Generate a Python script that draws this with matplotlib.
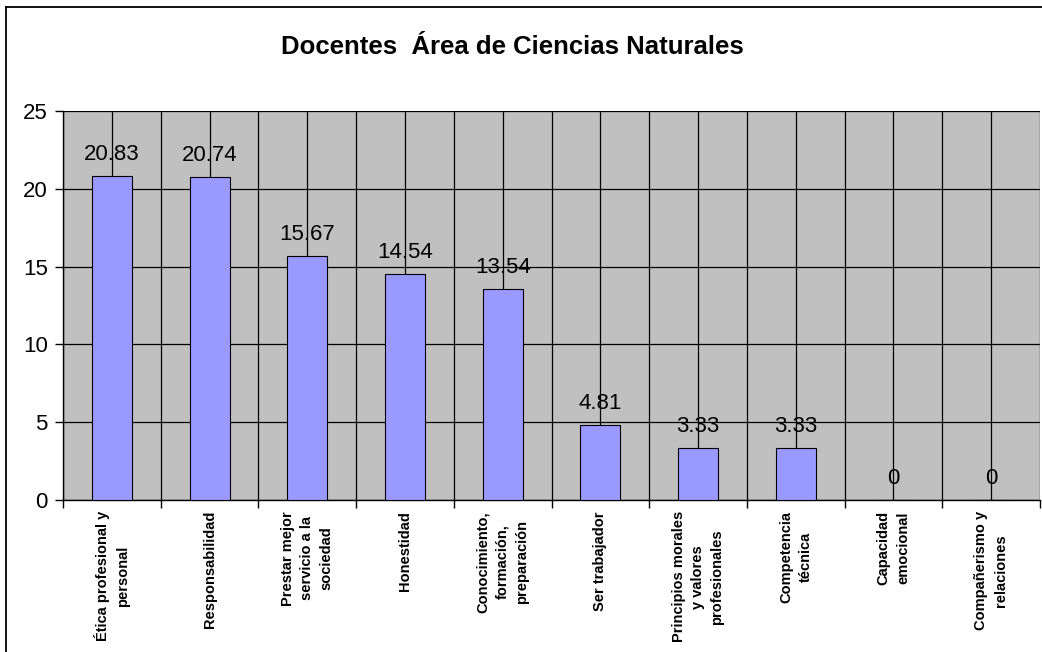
import numpy as np
import matplotlib
matplotlib.use('Agg')
import matplotlib.pyplot as plt
from matplotlib.lines import Line2D

plt.rcParams['font.family'] = ['Liberation Sans', 'DejaVu Sans']

categorias = ['Ética profesional y\npersonal', 'Responsabilidad',
              'Prestar mejor\nservicio a la\nsociedad', 'Honestidad',
              'Conocimiento,\nformación,\npreparación', 'Ser trabajador',
              'Principios morales\ny valores\nprofesionales', 'Competencia\ntécnica',
              'Capacidad\nemocional', 'Compañerismo y\nrelaciones']
valores = [20.83, 20.74, 15.67, 14.54, 13.54, 4.81, 3.33, 3.33, 0, 0]
etiquetas = ['20.83', '20.74', '15.67', '14.54', '13.54', '4.81', '3.33', '3.33', '0', '0']
titulo = 'Docentes  Área de Ciencias Naturales'

fig = plt.figure(figsize=(10.42, 6.52), dpi=100)
W, H = 1042.0, 652.0
ax = fig.add_axes([63/W, 1-500/H, (1040-63)/W, (500-111)/H])
ax.set_facecolor('#C0C0C0')

x = np.arange(len(valores))
ax.bar(x, valores, width=0.41, color='#9999FF', edgecolor='black', linewidth=0.8, zorder=3)

for xi, v, t in zip(x, valores, etiquetas):
    ax.annotate(t, (xi, v), xytext=(0, 8), textcoords='offset points',
                ha='center', va='bottom', fontsize=16, zorder=4)

ax.set_xlim(-0.5, len(valores)-0.5)
ax.set_ylim(0, 25)
ax.set_yticks([0, 5, 10, 15, 20, 25])
ax.tick_params(axis='y', labelsize=16, length=6, width=1, direction='out', pad=5)

# tick marks at category boundaries, labels at centres
ax.set_xticks(np.arange(-0.5, len(valores)), labels=[''] * (len(valores)+1))
ax.set_xticks(x, labels=categorias, minor=True)
ax.tick_params(axis='x', which='major', length=6, width=1, direction='out')
ax.tick_params(axis='x', which='minor', length=0, pad=8)
for lab in ax.get_xticklabels(minor=True):
    lab.set_rotation(90)
    lab.set_fontsize(10.5)
    lab.set_fontweight('bold')
    lab.set_ha('center')
    lab.set_va('top')
    lab.set_multialignment('center')
    lab.set_linespacing(1.5)

ax.grid(axis='y', color='black', linewidth=0.9, zorder=0)
ax.grid(axis='x', which='both', color='black', linewidth=0.9, zorder=0)
ax.set_axisbelow(True)
for s in ['top', 'right']:
    ax.spines[s].set_visible(False)
for s in ['left', 'bottom']:
    ax.spines[s].set_color('black')
    ax.spines[s].set_linewidth(1)

fig.text(512/W, 1-47/H, titulo, ha='center', va='center', fontsize=18.5, fontweight='bold')

# chart border (cut at right and bottom)
fig.add_artist(Line2D([5.5/W, 1.0], [1-6.5/H, 1-6.5/H], color='black', linewidth=1.3, transform=fig.transFigure))
fig.add_artist(Line2D([5.5/W, 5.5/W], [0.0, 1-6.5/H], color='black', linewidth=1.3, transform=fig.transFigure))

fig.savefig('out.png', dpi=100, facecolor='white')
